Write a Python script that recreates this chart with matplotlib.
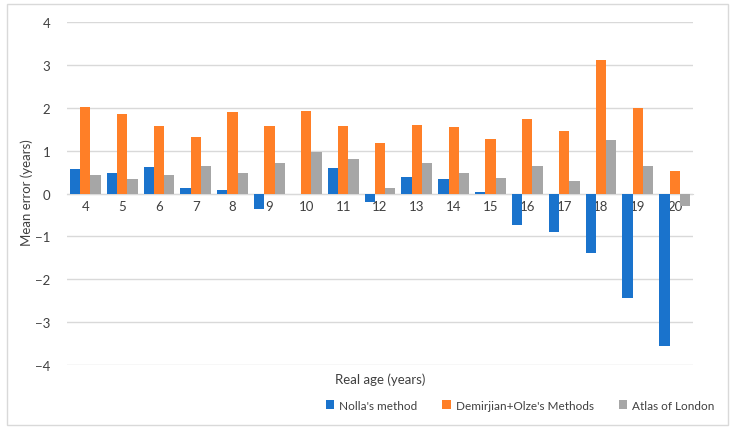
import matplotlib
matplotlib.use("Agg")
import matplotlib.pyplot as plt
import numpy as np

plt.rcParams['font.family'] = ['Lato', 'DejaVu Sans']
plt.rcParams['axes.unicode_minus'] = True

# datos
ages = ['4', '5', '6', '7', '8', '9', '10', '11', '12', '13', '14', '15', '16', '17', '18', '19', '20']
nolla = [0.58, 0.49, 0.63, 0.12, 0.09, -0.36, 0.0, 0.59, -0.19, 0.38, 0.33, 0.03,
         -0.74, -0.90, -1.38, -2.43, -3.56]
demirjian = [2.02, 1.85, 1.57, 1.33, 1.91, 1.57, 1.93, 1.57, 1.19, 1.60, 1.56, 1.27,
             1.73, 1.45, 3.11, 2.00, 0.53]
atlas = [0.43, 0.35, 0.43, 0.65, 0.48, 0.71, 0.97, 0.81, 0.12, 0.71, 0.48, 0.36,
         0.64, 0.29, 1.24, 0.64, -0.30]
series_names = ["Nolla's method", "Demirjian+Olze's Methods", "Atlas of London"]
colors = ['#1A73CC', '#FF7F27', '#A6A6A6']

fig = plt.figure(figsize=(7.35, 4.31), dpi=100)
ax = fig.add_axes([0.091, 0.1515, 0.852, 0.7944])

x = np.arange(len(ages))
w = 0.28
for i, (vals, name) in enumerate(zip([nolla, demirjian, atlas], series_names)):
    ax.bar(x + (i - 1) * w, vals, w, color=colors[i], label=name, zorder=3)

ax.set_xlim(-0.5, len(ages) - 0.5)
ax.set_ylim(-4, 4)
ax.set_yticks(np.arange(-4, 5, 1))
ax.grid(axis='y', color='#D9D9D9', linewidth=1, zorder=0)
ax.set_xticks(x)
ax.set_xticklabels(ages)
for s in ['top', 'right', 'left']:
    ax.spines[s].set_visible(False)
ax.spines['bottom'].set_position(('data', 0))
ax.spines['bottom'].set_color('#D9D9D9')
ax.tick_params(axis='both', length=0, labelsize=9.5, colors='#404040')
ax.tick_params(axis='y', pad=12)
ax.tick_params(axis='x', pad=5)

fig.text(0.037, 0.5525, 'Mean error (years)', rotation=90, ha='center', va='center',
         fontsize=9.5, color='#404040')
fig.text(0.517, 0.118, 'Real age (years)', ha='center', va='center', fontsize=9.5, color='#404040')

fig.legend(loc='center', bbox_to_anchor=(0.7075, 0.058), ncol=3, frameon=False,
           handlelength=0.75, handleheight=0.75, handletextpad=0.4, columnspacing=2.1,
           fontsize=8.5, labelcolor='#404040')

# marco exterior
fig.patches.append(plt.Rectangle((0.009, 0.012), 0.982, 0.976, transform=fig.transFigure,
                                 fill=False, edgecolor='#D9D9D9', linewidth=1))

fig.savefig('out.png', dpi=100)
